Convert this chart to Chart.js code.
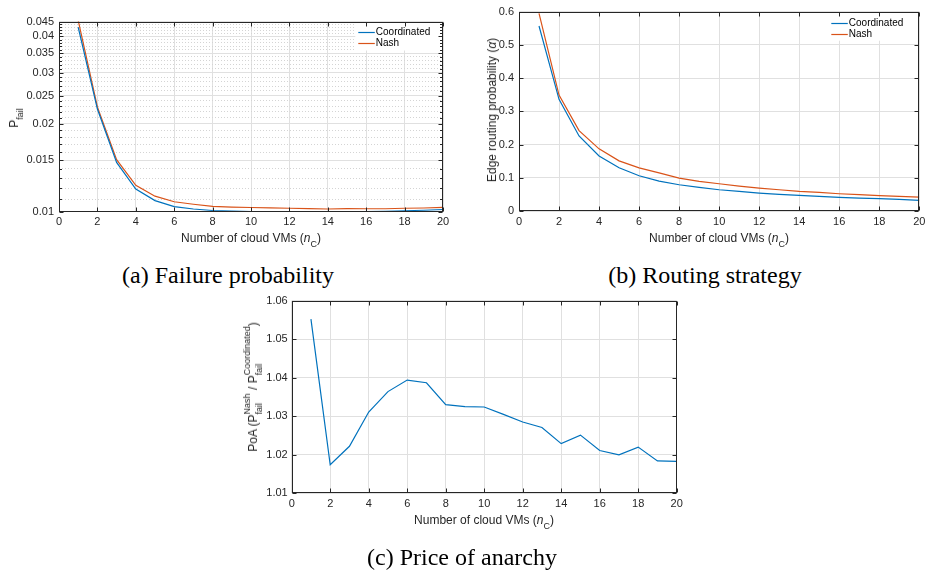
<!DOCTYPE html>
<html><head><meta charset="utf-8">
<script src="https://cdn.jsdelivr.net/npm/chart.js@4.4.0/dist/chart.umd.min.js"></script>
<style>
html,body{margin:0;padding:0;background:#fff;}
body{width:925px;height:570px;position:relative;overflow:hidden;font-family:"Liberation Sans",Arial,sans-serif;color:#262626;}
canvas{position:absolute;}
.lbl{position:absolute;white-space:nowrap;font-size:12px;line-height:14px;color:#262626;transform:translate(-50%,-50%);}
.rot{transform:translate(-50%,-50%) rotate(-90deg);}
.sb{font-size:9px;line-height:0;vertical-align:-5px;}
.ss{display:inline-flex;flex-direction:column;align-items:flex-start;font-size:9px;line-height:12px;vertical-align:7px;}
.ss span{display:block;height:12px;}
.cap{position:absolute;white-space:nowrap;font-family:"Liberation Serif","Times New Roman",serif;font-size:24px;line-height:24px;color:#000;transform:translateX(-50%);}
</style>
</head><body>
<canvas id="ca" width="460" height="250" style="left:0;top:0"></canvas>
<canvas id="cb" width="465" height="250" style="left:460px;top:0"></canvas>
<canvas id="cc" width="460" height="250" style="left:230px;top:290px"></canvas>

<div class="lbl" style="left:251px;top:238px">Number of cloud VMs (<i>n</i><span class="sb">C</span>)</div>
<div class="lbl rot" style="left:14px;top:118px">P<span class="sb">fail</span></div>
<div class="lbl" style="left:719px;top:238px">Number of cloud VMs (<i>n</i><span class="sb">C</span>)</div>
<div class="lbl rot" style="left:492px;top:110px">Edge routing probability (<i>α</i>)</div>
<div class="lbl" style="left:484px;top:520px">Number of cloud VMs (<i>n</i><span class="sb">C</span>)</div>
<div class="lbl rot" style="left:253px;top:387px">PoA (P<span class="ss"><span>Nash</span><span>fail</span></span> / P<span class="ss"><span>Coordinated</span><span>fail</span></span>)</div>

<div class="cap" style="left:228px;top:263px">(a) Failure probability</div>
<div class="cap" style="left:705px;top:263px">(b) Routing strategy</div>
<div class="cap" style="left:462px;top:545px">(c) Price of anarchy</div>

<script>
// ---- data ----
const nC = [1,2,3,4,5,6,7,8,9,10,11,12,13,14,15,16,17,18,19,20];
const seriesNames = ['Coordinated','Nash'];
const pfailCoordinated = [0.0430,0.0225,0.01475,0.01194,0.0109,0.0104,0.0102,0.01008,0.01003,0.01000,0.00999,0.00998,0.00998,0.00997,0.00998,0.01000,0.01002,0.01006,0.01010,0.01016];
const pfailNash = [0.04537,0.02288,0.01507,0.01231,0.01129,0.0108,0.01059,0.01041,0.01036,0.01032,0.01029,0.01026,0.01023,0.0102,0.01023,0.01022,0.01022,0.01026,0.01028,0.01033];
const alphaCoordinated = [0.557,0.336,0.226,0.1655,0.130,0.106,0.090,0.079,0.071,0.064,0.059,0.054,0.050,0.047,0.044,0.041,0.039,0.037,0.035,0.032];
const alphaNash = [0.595,0.349,0.242,0.187,0.151,0.130,0.115,0.099,0.089,0.082,0.075,0.069,0.064,0.059,0.056,0.052,0.049,0.046,0.044,0.042];
const poa = [1.0552,1.0174,1.0222,1.0311,1.0364,1.0394,1.0387,1.0330,1.0325,1.0324,1.0305,1.0285,1.0271,1.0229,1.0251,1.0211,1.0200,1.0220,1.0184,1.0183];
const xTicks = [0,2,4,6,8,10,12,14,16,18,20];
const pfailTickLabels = [0.01,0.015,0.02,0.025,0.03,0.035,0.04,0.045];
const alphaTicks = [0,0.1,0.2,0.3,0.4,0.5,0.6];
const poaTicks = [1.01,1.02,1.03,1.04,1.05,1.06];

// minor grid positions for the log axis (every 0.001)
const pfailGrid = [];
for (let i = 10; i <= 45; i++) pfailGrid.push(i/1000);

const BLUE = '#0072BD', ORANGE = '#D95319', INK = '#262626';
Chart.defaults.font.family = '"Liberation Sans", Arial, sans-serif';
Chart.defaults.font.size = 11;
Chart.defaults.color = INK;

const isMinor = (scale, v) => scale.type === 'logarithmic' && !pfailTickLabels.includes(v);

const innerTicks = {
  id: 'innerTicks',
  afterDraw(chart) {
    const ctx = chart.ctx, a = chart.chartArea, xs = chart.scales.x, ys = chart.scales.y;
    const L = Math.round(a.left)+0.5, R = Math.round(a.right)-0.5, T = Math.round(a.top)+0.5, B = Math.round(a.bottom)-0.5;
    ctx.save();
    ctx.strokeStyle = INK; ctx.lineWidth = 1;
    ctx.beginPath();
    xs.ticks.forEach(t => {
      const px = Math.round(xs.getPixelForValue(t.value)) + 0.5;
      ctx.moveTo(px, B); ctx.lineTo(px, B-4);
      ctx.moveTo(px, T); ctx.lineTo(px, T+4);
    });
    ys.ticks.forEach(t => {
      const py = Math.round(ys.getPixelForValue(t.value)) + 0.5;
      const len = isMinor(ys, t.value) ? 2.5 : 4;
      ctx.moveTo(L, py); ctx.lineTo(L+len, py);
      ctx.moveTo(R, py); ctx.lineTo(R-len, py);
    });
    ctx.stroke();
    ctx.strokeRect(L, T, R-L, B-T);
    ctx.restore();
  }
};

const insideLegend = {
  id: 'insideLegend',
  afterDatasetsDraw(chart, args, opts) {
    const ctx = chart.ctx, a = chart.chartArea;
    const x0 = a.right - opts.dx;
    ctx.save();
    ctx.fillStyle = '#fff';
    ctx.fillRect(x0-3, a.top+1, opts.dx+2, 28);
    chart.data.datasets.forEach((ds, i) => {
      const y = Math.round(a.top + opts.rows[i]) + 0.5;
      ctx.strokeStyle = ds.borderColor; ctx.lineWidth = 1.2;
      ctx.beginPath(); ctx.moveTo(x0, y); ctx.lineTo(x0+16.5, y); ctx.stroke();
      ctx.fillStyle = '#000';
      ctx.font = '10px "Liberation Sans", Arial, sans-serif';
      ctx.textBaseline = 'middle'; ctx.textAlign = 'left';
      ctx.fillText(ds.label, x0+17.5, y);
    });
    ctx.restore();
  }
};

function series(vals, i, color) {
  return { label: seriesNames[i], data: nC.map((x, k) => ({x: x, y: vals[k]})),
           borderColor: color, backgroundColor: color, borderWidth: 1.2,
           pointRadius: 0, fill: false, tension: 0 };
}

function makeChart(id, w, h, area, datasets, yScale, legendOpts) {
  return new Chart(document.getElementById(id), {
    type: 'line',
    data: { datasets },
    options: {
      responsive: false, animation: false, devicePixelRatio: 1,
      layout: { padding: { top: area.top, right: w - area.right, left: 0, bottom: 0 } },
      plugins: { legend: { display: false }, tooltip: { enabled: false },
                 insideLegend: legendOpts },
      scales: {
        x: {
          type: 'linear', min: 0, max: 20,
          afterBuildTicks: s => { s.ticks = xTicks.map(v => ({ value: v })); },
          ticks: { autoSkip: false, maxRotation: 0, padding: 4, color: INK, callback: v => String(v) },
          grid: { color: '#e0e0e0', drawTicks: false },
          border: { display: false },
          afterFit: s => { s.height = h - area.bottom; s.paddingLeft = 0; s.paddingRight = 0; }
        },
        y: Object.assign({
          border: { display: false },
          afterFit: s => { s.width = area.left; s.paddingTop = 0; s.paddingBottom = 0; }
        }, yScale)
      }
    },
    plugins: [innerTicks, insideLegend]
  });
}

// (a) failure probability, log axis
makeChart('ca', 460, 250, { left: 59, right: 443, top: 21.5, bottom: 211.5 },
  [series(pfailCoordinated, 0, BLUE), series(pfailNash, 1, ORANGE)],
  {
    type: 'logarithmic', min: 0.01, max: 0.045,
    afterBuildTicks: s => { s.ticks = pfailGrid.map(v => ({ value: v })); },
    ticks: { autoSkip: false, padding: 5, color: INK,
             callback: v => pfailTickLabels.includes(v) ? String(v) : '' },
    grid: { drawTicks: false,
            color: c => (c.tick && !pfailTickLabels.includes(c.tick.value)) ? '#d4d4d4' : '#e0e0e0' },
    border: { display: false,
              dash: c => (c.tick && !pfailTickLabels.includes(c.tick.value)) ? [1, 2] : [] }
  },
  { dx: 84.7, rows: [10, 21.5] });

// (b) routing strategy
makeChart('cb', 465, 250, { left: 59, right: 459.3, top: 11.7, bottom: 211 },
  [series(alphaCoordinated, 0, BLUE), series(alphaNash, 1, ORANGE)],
  {
    type: 'linear', min: 0, max: 0.6,
    afterBuildTicks: s => { s.ticks = alphaTicks.map(v => ({ value: v })); },
    ticks: { autoSkip: false, padding: 5, color: INK, callback: v => String(v) },
    grid: { drawTicks: false, color: '#e0e0e0' }
  },
  { dx: 88, rows: [11, 22.3] });

// (c) price of anarchy
makeChart('cc', 460, 250, { left: 61.7, right: 446.7, top: 10.7, bottom: 203.3 },
  [{ label: 'PoA', data: nC.map((x, k) => ({ x: x, y: poa[k] })), borderColor: BLUE,
     borderWidth: 1.2, pointRadius: 0, fill: false, tension: 0 }],
  {
    type: 'linear', min: 1.01, max: 1.06,
    afterBuildTicks: s => { s.ticks = poaTicks.map(v => ({ value: v })); },
    ticks: { autoSkip: false, padding: 4, color: INK, callback: v => v.toFixed(2) },
    grid: { drawTicks: false, color: '#e0e0e0' }
  },
  false);
</script>
</body></html>
